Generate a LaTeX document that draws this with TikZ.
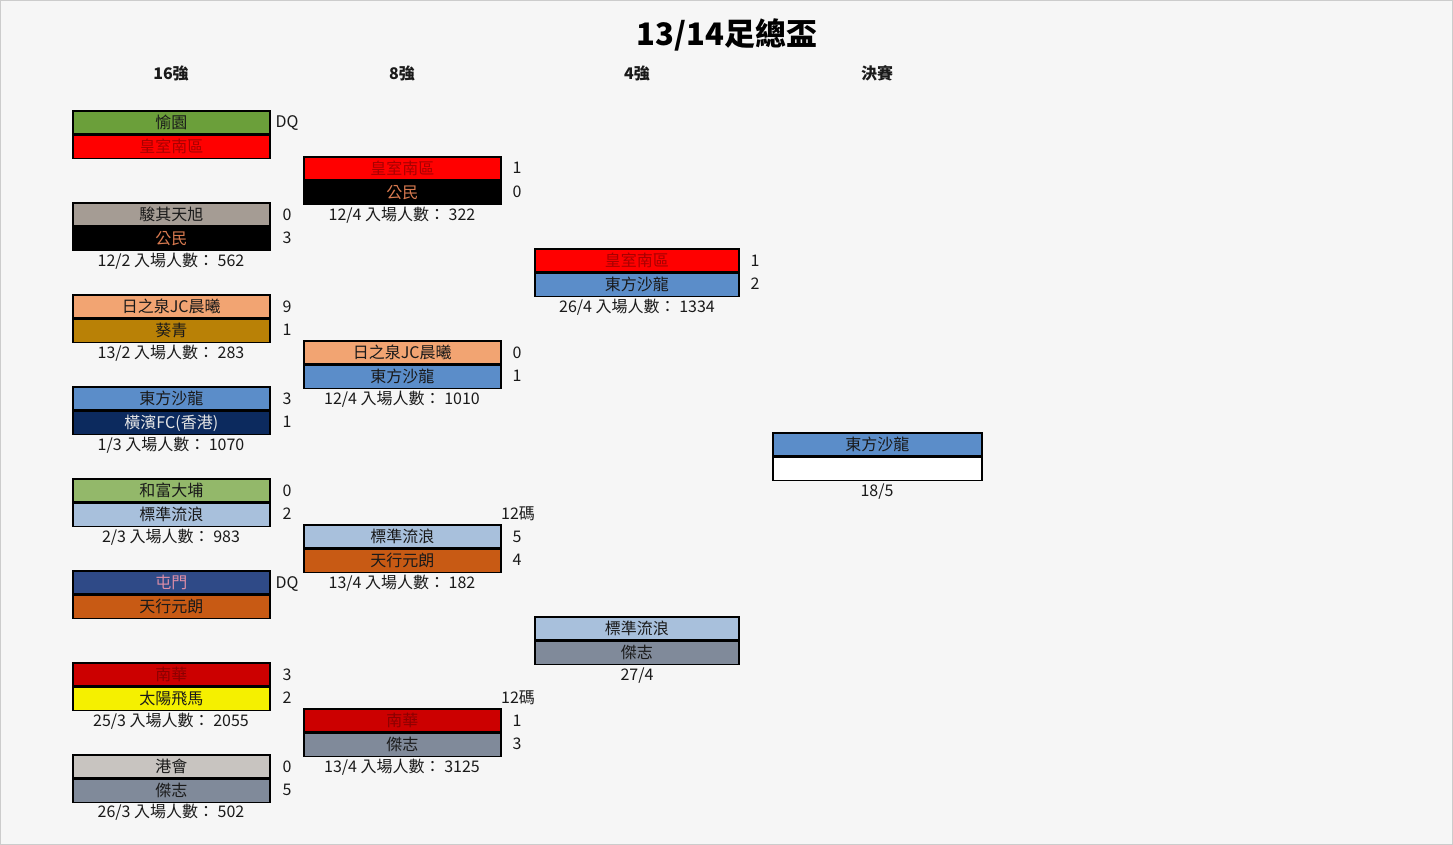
\documentclass[tikz,border=0pt]{standalone}
\usepackage{fontspec}
\setmainfont{Noto Sans CJK TC}
\definecolor{bg}{HTML}{F6F6F6}
\definecolor{cYuen}{HTML}{6B9F3A}
\definecolor{cRed}{HTML}{FF0000}
\definecolor{cRedTxt}{HTML}{A80000}
\definecolor{cBiu}{HTML}{A59C94}
\definecolor{cCit}{HTML}{000000}
\definecolor{cCitTxt}{HTML}{D87A50}
\definecolor{cSun}{HTML}{F2A472}
\definecolor{cKwai}{HTML}{B98106}
\definecolor{cEast}{HTML}{5B8DC9}
\definecolor{cYoko}{HTML}{0C2A5E}
\definecolor{cYokoTxt}{HTML}{E6E6E6}
\definecolor{cTaiPo}{HTML}{93B86A}
\definecolor{cRov}{HTML}{A8C0DC}
\definecolor{cTM}{HTML}{2F4A87}
\definecolor{cTMTxt}{HTML}{E08FA8}
\definecolor{cYL}{HTML}{C85A14}
\definecolor{cSCAA}{HTML}{CC0000}
\definecolor{cSCAATxt}{HTML}{8A0000}
\definecolor{cPeg}{HTML}{F5F000}
\definecolor{cHKFC}{HTML}{C8C4C0}
\definecolor{cKit}{HTML}{808A9A}
\definecolor{txt}{HTML}{1A1A1A}
\newcommand\pairbox[8]{%
  \node[team, minimum width=#4pt, fill=#5] (#1a) at (#2,#3) {#6};
  \node[team, minimum width=#4pt, fill=#7] (#1b) at (#1a.south west) {#8};
}
\begin{document}
\begin{tikzpicture}[x=1pt,y=-1pt,
  team/.style={draw=black, line width=1.6pt, minimum height=23pt, inner sep=0pt,
    text height=13pt, text depth=1pt,
    anchor=north west, text=txt, font=\fontsize{16}{16}\selectfont},
  lbl/.style={font=\fontsize{16}{16}\selectfont, inner sep=0pt, text=txt,
    text height=13pt, text depth=1pt},
  hdr/.style={font=\fontsize{16}{16}\selectfont\bfseries, inner sep=0pt, text=txt,
    text height=13pt, text depth=1pt}]
\fill[bg] (0,0) rectangle (1453,845);
\draw[draw=black!20, line width=1pt] (0.5,0.5) rectangle (1452.5,844.5);

\node[font=\fontsize{31}{31}\selectfont\bfseries, inner sep=0pt, text height=25pt, text depth=2pt] (title) at (727,34) {13/14足總盃};
\node[hdr] (h16) at (171,74) {16強};
\node[hdr] (h8) at (402,74) {8強};
\node[hdr] (h4) at (637,74) {4強};
\node[hdr] (hf) at (877,74) {決賽};

% Round of 16
\pairbox{r1}{72}{110}{197}{cYuen}{愉園}{cRed}{\textcolor{cRedTxt}{皇室南區}}
\node[lbl] (r1s) at (287,122) {DQ};

\pairbox{r2}{72}{202}{197}{cBiu}{駿其天旭}{cCit}{\textcolor{cCitTxt}{公民}}
\node[lbl] (r2sa) at (287,214) {0};
\node[lbl] (r2sb) at (287,237) {3};
\node[lbl] (r2c) at (171,260) {12/2 入場人數： 562};

\pairbox{r3}{72}{294}{197}{cSun}{日之泉JC晨曦}{cKwai}{葵青}
\node[lbl] (r3sa) at (287,306) {9};
\node[lbl] (r3sb) at (287,329) {1};
\node[lbl] (r3c) at (171,352) {13/2 入場人數： 283};

\pairbox{r4}{72}{386}{197}{cEast}{東方沙龍}{cYoko}{\textcolor{cYokoTxt}{橫濱FC(香港)}}
\node[lbl] (r4sa) at (287,398) {3};
\node[lbl] (r4sb) at (287,421) {1};
\node[lbl] (r4c) at (171,444) {1/3 入場人數： 1070};

\pairbox{r5}{72}{478}{197}{cTaiPo}{和富大埔}{cRov}{標準流浪}
\node[lbl] (r5sa) at (287,490) {0};
\node[lbl] (r5sb) at (287,513) {2};
\node[lbl] (r5c) at (171,536) {2/3 入場人數： 983};

\pairbox{r6}{72}{570}{197}{cTM}{\textcolor{cTMTxt}{屯門}}{cYL}{天行元朗}
\node[lbl] (r6s) at (287,582) {DQ};

\pairbox{r7}{72}{662}{197}{cSCAA}{\textcolor{cSCAATxt}{南華}}{cPeg}{太陽飛馬}
\node[lbl] (r7sa) at (287,674) {3};
\node[lbl] (r7sb) at (287,697) {2};
\node[lbl] (r7c) at (171,720) {25/3 入場人數： 2055};

\pairbox{r8}{72}{754}{197}{cHKFC}{港會}{cKit}{傑志}
\node[lbl] (r8sa) at (287,766) {0};
\node[lbl] (r8sb) at (287,789) {5};
\node[lbl] (r8c) at (171,811) {26/3 入場人數： 502};

% Quarter-finals
\pairbox{q1}{303}{156}{197}{cRed}{\textcolor{cRedTxt}{皇室南區}}{cCit}{\textcolor{cCitTxt}{公民}}
\node[lbl] (q1sa) at (517,168) {1};
\node[lbl] (q1sb) at (517,191) {0};
\node[lbl] (q1c) at (402,214) {12/4 入場人數： 322};

\pairbox{q2}{303}{340}{197}{cSun}{日之泉JC晨曦}{cEast}{東方沙龍}
\node[lbl] (q2sa) at (517,352) {0};
\node[lbl] (q2sb) at (517,375) {1};
\node[lbl] (q2c) at (402,398) {12/4 入場人數： 1010};

\pairbox{q3}{303}{524}{197}{cRov}{標準流浪}{cYL}{天行元朗}
\node[lbl] (q3p) at (518,513) {12碼};
\node[lbl] (q3sa) at (517,536) {5};
\node[lbl] (q3sb) at (517,559) {4};
\node[lbl] (q3c) at (402,582) {13/4 入場人數： 182};

\pairbox{q4}{303}{708}{197}{cSCAA}{\textcolor{cSCAATxt}{南華}}{cKit}{傑志}
\node[lbl] (q4p) at (518,697) {12碼};
\node[lbl] (q4sa) at (517,720) {1};
\node[lbl] (q4sb) at (517,743) {3};
\node[lbl] (q4c) at (402,766) {13/4 入場人數： 3125};

% Semi-finals
\pairbox{s1}{534}{248}{204}{cRed}{\textcolor{cRedTxt}{皇室南區}}{cEast}{東方沙龍}
\node[lbl] (s1sa) at (755,260) {1};
\node[lbl] (s1sb) at (755,283) {2};
\node[lbl] (s1c) at (637,306) {26/4 入場人數： 1334};

\pairbox{s2}{534}{616}{204}{cRov}{標準流浪}{cKit}{傑志}
\node[lbl] (s2c) at (637,674) {27/4};

% Final
\pairbox{f1}{772}{432}{209}{cEast}{東方沙龍}{white}{}
\node[lbl] (f1c) at (877,490) {18/5};
\end{tikzpicture}
\end{document}
